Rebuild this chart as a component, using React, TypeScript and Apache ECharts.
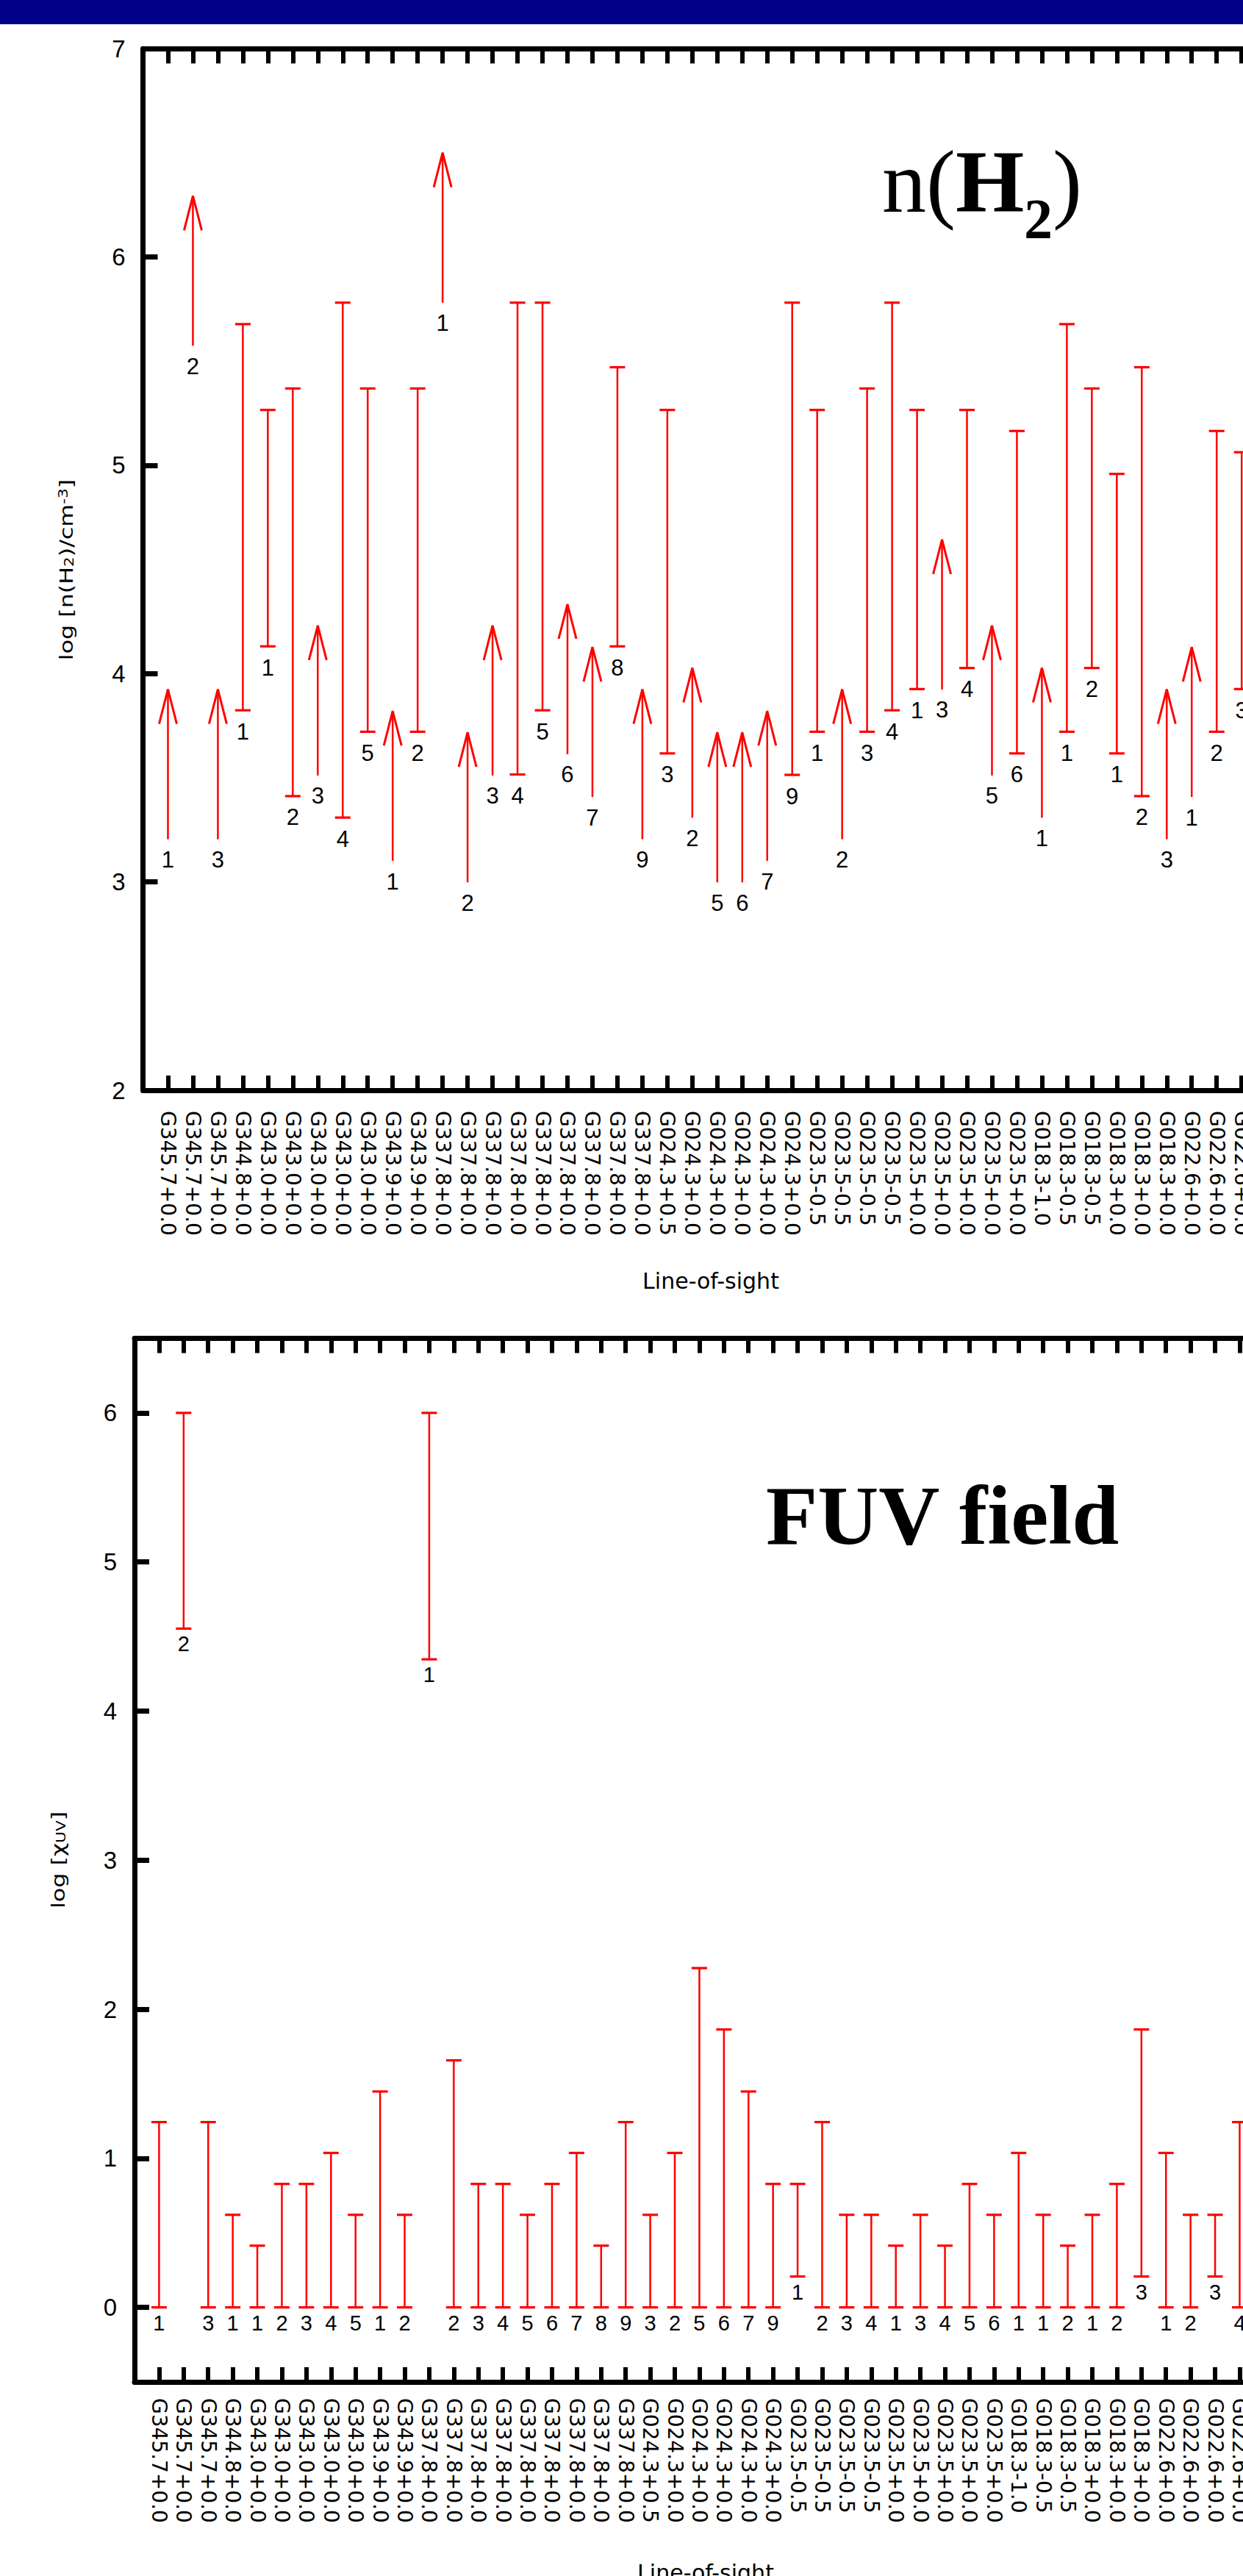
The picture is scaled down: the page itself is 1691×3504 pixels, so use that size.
import React, { useEffect, useRef } from 'react';
import * as echarts from 'echarts';

// Line-of-sight names (category order along the x axis)
const losNames: string[] = [
  'G345.7+0.0', 'G345.7+0.0', 'G345.7+0.0', 'G344.8+0.0',
  'G343.0+0.0', 'G343.0+0.0', 'G343.0+0.0', 'G343.0+0.0', 'G343.0+0.0',
  'G343.9+0.0', 'G343.9+0.0',
  'G337.8+0.0', 'G337.8+0.0', 'G337.8+0.0', 'G337.8+0.0', 'G337.8+0.0',
  'G337.8+0.0', 'G337.8+0.0', 'G337.8+0.0', 'G337.8+0.0',
  'G024.3+0.5',
  'G024.3+0.0', 'G024.3+0.0', 'G024.3+0.0', 'G024.3+0.0', 'G024.3+0.0',
  'G023.5-0.5', 'G023.5-0.5', 'G023.5-0.5', 'G023.5-0.5',
  'G023.5+0.0', 'G023.5+0.0', 'G023.5+0.0', 'G023.5+0.0', 'G023.5+0.0',
  'G018.3-1.0',
  'G018.3-0.5', 'G018.3-0.5',
  'G018.3+0.0', 'G018.3+0.0', 'G018.3+0.0',
  'G022.6+0.0', 'G022.6+0.0', 'G022.6+0.0', 'G022.6+0.0',
];

// n(H2): lower end of each range (or lower limit for arrows); upper end (null = lower limit)
const densityLow: number[] = [
  3.205, 5.574, 3.205, 3.824, 4.131, 3.412, 3.511, 3.309, 3.721, 3.101,
  3.721, 5.781, 2.998, 3.511, 3.516, 3.824, 3.613, 3.408, 4.131, 3.205,
  3.617, 3.308, 2.998, 2.998, 3.101, 3.514, 3.721, 3.205, 3.721, 3.824,
  3.926, 3.924, 4.027, 3.511, 3.617, 3.308, 3.721, 4.027, 3.617, 3.412,
  3.205, 3.408, 3.721, 3.926,
];
const densityHigh: (number | null)[] = [
  null, null, null, 5.678, 5.266, 5.369, null, 5.781, 5.369, null,
  5.369, null, null, null, 5.781, 5.781, null, null, 5.471, null,
  5.266, null, null, null, null, 5.781, 5.266, null, 5.369, 5.781,
  5.266, null, 5.266, null, 5.165, null, 5.678, 5.369, 4.959, 5.471,
  null, null, 5.165, 5.063,
];
const densityTag: number[] = [
  1, 2, 3, 1, 1, 2, 3, 4, 5, 1, 2, 1, 2, 3, 4, 5, 6, 7, 8, 9, 3, 2,
  5, 6, 7, 9, 1, 2, 3, 4, 1, 3, 4, 5, 6, 1, 1, 2, 1, 2, 3, 1, 2, 3,
];

// FUV field ranges
const fuvLow: number[] = [
  0, 4.553, 0, 0, 0, 0, 0, 0, 0, 0,
  0, 4.347, 0, 0, 0, 0, 0, 0, 0, 0,
  0, 0, 0, 0, 0, 0, 0.207, 0, 0, 0,
  0, 0, 0, 0, 0, 0, 0, 0, 0, 0,
  0.207, 0, 0, 0.207, 0,
];
const fuvHigh: number[] = [
  1.243, 6.0, 1.243, 0.621, 0.414, 0.828, 0.828, 1.036, 0.621, 1.448,
  0.621, 6.0, 1.657, 0.828, 0.828, 0.621, 0.828, 1.036, 0.414, 1.243,
  0.621, 1.036, 2.276, 1.864, 1.448, 0.828, 0.828, 1.243, 0.621, 0.621,
  0.414, 0.621, 0.414, 0.828, 0.621, 1.036, 0.621, 0.414, 0.621, 0.828,
  1.864, 1.036, 0.621, 0.621, 1.243,
];
const fuvTag: number[] = [
  1, 2, 3, 1, 1, 2, 3, 4, 5, 1, 2, 1, 2, 3, 4, 5, 6, 7, 8, 9, 3, 2,
  5, 6, 7, 9, 1, 2, 3, 4, 1, 3, 4, 5, 6, 1, 1, 2, 1, 2, 3, 1, 2, 3, 4,
];

const densityTicks = [2, 3, 4, 5, 6, 7];
const fuvTicks = [0, 1, 2, 3, 4, 5, 6];

const RED = '#ff0000';
const SANS = '"DejaVu Sans", sans-serif';
const HELV = '"Liberation Sans", Arial, sans-serif';
const SERIF = '"Liberation Serif", "Times New Roman", serif';
const CHART_W = 1950;
const CHART_H = 3504;

function rangeRenderer(tags: string[], labelGap: number, fontSize: number) {
  return (params: any, api: any) => {
    const x = api.value(0);
    const a = api.coord([x, api.value(1)]);
    const b = api.coord([x, api.value(2)]);
    const cap = 10.5;
    return {
      type: 'group',
      children: [
        { type: 'line', shape: { x1: a[0], y1: a[1], x2: b[0], y2: b[1] }, style: { stroke: RED, lineWidth: 2.5 } },
        { type: 'line', shape: { x1: a[0] - cap, y1: a[1], x2: a[0] + cap, y2: a[1] }, style: { stroke: RED, lineWidth: 3.2 } },
        { type: 'line', shape: { x1: b[0] - cap, y1: b[1], x2: b[0] + cap, y2: b[1] }, style: { stroke: RED, lineWidth: 3.2 } },
        {
          type: 'text', x: a[0], y: a[1] + labelGap,
          style: {
            text: tags[params.dataIndex], fill: '#000', font: `${fontSize}px ${HELV}`,
            align: 'center', verticalAlign: 'middle', textAlign: 'center', textVerticalAlign: 'middle',
          },
        },
      ],
    };
  };
}

function arrowRenderer(tags: string[], labelGap: number, fontSize: number) {
  return (params: any, api: any) => {
    const a = api.coord([api.value(0), api.value(1)]);
    const len = 204;
    const tipY = a[1] - len;
    return {
      type: 'group',
      children: [
        { type: 'line', shape: { x1: a[0], y1: a[1], x2: a[0], y2: tipY }, style: { stroke: RED, lineWidth: 2.5 } },
        {
          type: 'polyline',
          shape: { points: [[a[0] - 12, tipY + 47], [a[0], tipY], [a[0] + 12, tipY + 47]] },
          style: { stroke: RED, lineWidth: 3, fill: 'none' },
        },
        {
          type: 'text', x: a[0], y: a[1] + labelGap,
          style: {
            text: tags[params.dataIndex], fill: '#000', font: `${fontSize}px ${HELV}`,
            align: 'center', verticalAlign: 'middle', textAlign: 'center', textVerticalAlign: 'middle',
          },
        },
      ],
    };
  };
}

function xAxisDef(gridIndex: number, position: 'top' | 'bottom', showLabel: boolean, margin: number) {
  return {
    type: 'value',
    gridIndex,
    position,
    min: 0,
    max: 50,
    interval: 1,
    axisLine: { show: true, onZero: false, lineStyle: { color: '#000', width: 7 } },
    axisTick: { show: true, inside: true, length: 20, lineStyle: { color: '#000', width: 6 } },
    splitLine: { show: false },
    axisLabel: {
      show: showLabel,
      rotate: -90,
      margin,
      color: '#000',
      fontFamily: SANS,
      fontSize: 28,
      formatter: (v: number) => losNames[Math.round(v) - 1] || '',
    },
  };
}

export default function App() {
  const ref = useRef<HTMLDivElement>(null);

  useEffect(() => {
    if (!ref.current) return;
    const chart = echarts.init(ref.current, undefined, { renderer: 'svg' });

    const topRange: number[][] = [];
    const topRangeTags: string[] = [];
    const topArrow: number[][] = [];
    const topArrowTags: string[] = [];
    densityLow.forEach((lo, i) => {
      const hi = densityHigh[i];
      if (hi !== null) {
        topRange.push([i + 1, lo, hi]);
        topRangeTags.push(String(densityTag[i]));
      } else {
        topArrow.push([i + 1, lo]);
        topArrowTags.push(String(densityTag[i]));
      }
    });
    const fuvData = fuvLow.map((lo, i) => [i + 1, lo, fuvHigh[i]]);
    const fuvTags = fuvTag.map(String);

    const option: any = {
      animation: false,
      backgroundColor: '#fff',
      grid: [
        { left: 194.5, top: 66.3, width: 50 * 33.97, height: 1416.7, outerBoundsMode: 'none', containLabel: false },
        { left: 183, top: 1820.5, width: 50 * 33.41, height: 1419.5, outerBoundsMode: 'none', containLabel: false },
      ],
      xAxis: [
        xAxisDef(0, 'bottom', true, 28),
        xAxisDef(0, 'top', false, 8),
        xAxisDef(1, 'bottom', true, 22),
        xAxisDef(1, 'top', false, 8),
      ],
      yAxis: [
        {
          type: 'value', gridIndex: 0, position: 'left',
          min: 2, max: 7, interval: 1,
          axisLine: { show: true, onZero: false, lineStyle: { color: '#000', width: 7 } },
          axisTick: { show: true, inside: true, length: 20, lineStyle: { color: '#000', width: 7 }, customValues: densityTicks },
          axisLabel: { margin: 24, color: '#000', fontFamily: HELV, fontSize: 33, customValues: densityTicks },
          splitLine: { show: false },
        },
        {
          type: 'value', gridIndex: 1, position: 'left',
          min: -0.5, max: 6.5, splitNumber: 7,
          axisLine: { show: true, onZero: false, lineStyle: { color: '#000', width: 7 } },
          axisTick: { show: true, inside: true, length: 20, lineStyle: { color: '#000', width: 7 }, customValues: fuvTicks },
          axisLabel: {
            margin: 24, color: '#000', fontFamily: HELV, fontSize: 33, customValues: fuvTicks,
            formatter: (v: number) => (Number.isInteger(v) ? String(Math.abs(v)) : ''),
          },
          splitLine: { show: false },
        },
      ],
      series: [
        {
          type: 'custom', name: 'n(H2) range', xAxisIndex: 0, yAxisIndex: 0,
          data: topRange, renderItem: rangeRenderer(topRangeTags, 29, 31), silent: true, clip: false,
        },
        {
          type: 'custom', name: 'n(H2) lower limit', xAxisIndex: 0, yAxisIndex: 0,
          data: topArrow, renderItem: arrowRenderer(topArrowTags, 28, 31), silent: true, clip: false,
        },
        {
          type: 'custom', name: 'FUV range', xAxisIndex: 2, yAxisIndex: 1,
          data: fuvData, renderItem: rangeRenderer(fuvTags, 21, 29), silent: true, clip: false,
        },
      ],
      graphic: [
        { type: 'rect', shape: { x: 0, y: 0, width: CHART_W, height: 33 }, style: { fill: '#00008b' }, silent: true },
        // n(H2) title
        { type: 'text', x: 1200, y: 247.5, style: { text: 'n(', font: `120px ${SERIF}`, fill: '#000', align: 'left', verticalAlign: 'middle', textAlign: 'left', textVerticalAlign: 'middle' } },
        { type: 'text', x: 1300, y: 247.5, style: { text: 'H', font: `bold 120px ${SERIF}`, fill: '#000', align: 'left', verticalAlign: 'middle', textAlign: 'left', textVerticalAlign: 'middle' } },
        { type: 'text', x: 1393, y: 297.7, style: { text: '2', font: `bold 78px ${SERIF}`, fill: '#000', align: 'left', verticalAlign: 'middle', textAlign: 'left', textVerticalAlign: 'middle' } },
        { type: 'text', x: 1432, y: 247.5, style: { text: ')', font: `120px ${SERIF}`, fill: '#000', align: 'left', verticalAlign: 'middle', textAlign: 'left', textVerticalAlign: 'middle' } },
        // FUV field title
        { type: 'text', x: 1042, y: 2061, style: { text: 'FUV field', font: `bold 115px ${SERIF}`, fill: '#000', align: 'left', verticalAlign: 'middle', textAlign: 'left', textVerticalAlign: 'middle' } },
        // axis titles
        {
          type: 'text', x: 90, y: 775, rotation: Math.PI / 2, scaleX: 1.27,
          style: {
            text: 'log [n(H{s|2})/cm{p|-3}]', font: `25px ${SANS}`, fill: '#000',
            align: 'center', verticalAlign: 'middle', textAlign: 'center', textVerticalAlign: 'middle',
            rich: {
              s: { fontSize: 17, fontFamily: SANS, lineHeight: 8, verticalAlign: 'bottom' },
              p: { fontSize: 17, fontFamily: SANS, lineHeight: 8, verticalAlign: 'top' },
            },
          },
        },
        {
          type: 'text', x: 79, y: 2530, rotation: Math.PI / 2, scaleX: 1.27,
          style: {
            text: 'log [\u03c7{s|UV}]', font: `25px ${SANS}`, fill: '#000',
            align: 'center', verticalAlign: 'middle', textAlign: 'center', textVerticalAlign: 'middle',
            rich: {
              s: { fontSize: 17, fontFamily: SANS, lineHeight: 8, verticalAlign: 'bottom' },
            },
          },
        },
        { type: 'text', x: 967, y: 1742, style: { text: 'Line-of-sight', font: `30px ${SANS}`, fill: '#000', align: 'center', verticalAlign: 'middle', textAlign: 'center', textVerticalAlign: 'middle' } },
        { type: 'text', x: 960, y: 3499, style: { text: 'Line-of-sight', font: `30px ${SANS}`, fill: '#000', align: 'center', verticalAlign: 'middle', textAlign: 'center', textVerticalAlign: 'middle' } },
      ],
    };

    chart.setOption(option);
    return () => chart.dispose();
  }, []);

  return (
    <div style={{ position: 'absolute', left: 0, top: 0, width: 1691, height: CHART_H, overflow: 'hidden', background: '#fff' }}>
      <div ref={ref} style={{ width: CHART_W, height: CHART_H }} />
    </div>
  );
}
